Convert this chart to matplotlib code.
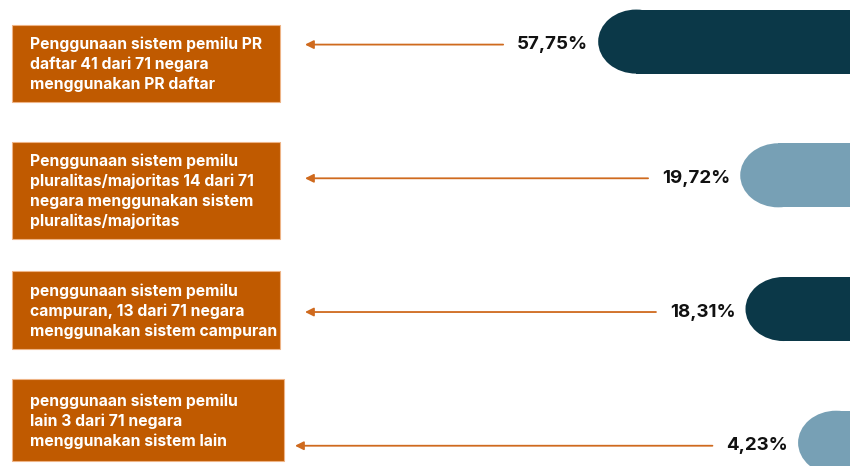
import matplotlib
matplotlib.use("Agg")
import matplotlib.pyplot as plt
from matplotlib.patches import Rectangle, Ellipse
import matplotlib.transforms as mtransforms

# ---- data ----
descriptions = [
    "Penggunaan sistem pemilu PR\ndaftar 41 dari 71 negara\nmenggunakan PR daftar",
    "Penggunaan sistem pemilu\npluralitas/majoritas 14 dari 71\nnegara menggunakan sistem\npluralitas/majoritas",
    "penggunaan sistem pemilu\ncampuran, 13 dari 71 negara\nmenggunakan sistem campuran",
    "penggunaan sistem pemilu\nlain 3 dari 71 negara\nmenggunakan sistem lain",
]
values = [57.75, 19.72, 18.31, 4.23]

# ---- style ----
bar_colors = ["#0b3848", "#77a0b5", "#0b3848", "#77a0b5"]
box_color = "#c05a00"
arrow_color = "#cf6a1e"
W, H = 850, 466

fig = plt.figure(figsize=(W / 100, H / 100), dpi=100)
ax = fig.add_axes([0, 0, 1, 1])
ax.set_xlim(217.9, -9.67)
ax.set_ylim(3.174, -0.311)
ax.axis("off")

px_per_unit_x = W / (217.9 + 9.67)
bar_h = 0.479
cap_rx = 38 / px_per_unit_x
x_far = -40

# bars with rounded left end
for i, (v, c) in enumerate(zip(values, bar_colors)):
    ax.add_patch(Rectangle((x_far, i - bar_h / 2), (v - cap_rx) - x_far, bar_h,
                           facecolor=c, edgecolor="none", zorder=2))
    ax.add_patch(Ellipse((v - cap_rx, i), 2 * cap_rx, bar_h,
                         facecolor=c, edgecolor="none", zorder=2))

# description boxes (pixel layout)
boxes = [(12, 25, 280, 102), (12, 142, 280, 239), (12, 271, 280, 349), (12, 379, 284, 461)]
arrow_tips = [305, 305, 305, 295]

for (x0, y0, x1, y1), desc in zip(boxes, descriptions):
    fig.patches.append(Rectangle((x0 / W, 1 - y1 / H), (x1 - x0) / W, (y1 - y0) / H,
                                 transform=fig.transFigure, facecolor=box_color,
                                 edgecolor="#eeb486", lw=0.8, zorder=1))
    fig.text(30 / W, 1 - ((y0 + y1) / 2 + 1) / H, desc, ha="left", va="center",
             color="white", fontsize=11.3, fontweight="bold", family="Inter",
             linespacing=1.36, zorder=3)

# value labels with arrows to the boxes
blend = mtransforms.blended_transform_factory(fig.transFigure, ax.transData)
label_tf = ax.transData + mtransforms.ScaledTranslation(-10 / 100, -3 / 100, fig.dpi_scale_trans)
for i, v in enumerate(values):
    label = f"{v:.2f}".replace(".", ",") + "%"
    ax.annotate(label, xy=(arrow_tips[i] / W, i + 3 / 133.7), xycoords=blend,
                xytext=(v, i), textcoords=label_tf,
                ha="right", va="center", fontsize=13.5, fontweight="bold",
                family="Inter", color="#111111",
                arrowprops=dict(arrowstyle="-|>,head_length=0.5,head_width=0.25",
                                color=arrow_color, lw=1.3, shrinkA=8, shrinkB=0,
                                mutation_scale=10))

fig.savefig("out.png", dpi=100)
